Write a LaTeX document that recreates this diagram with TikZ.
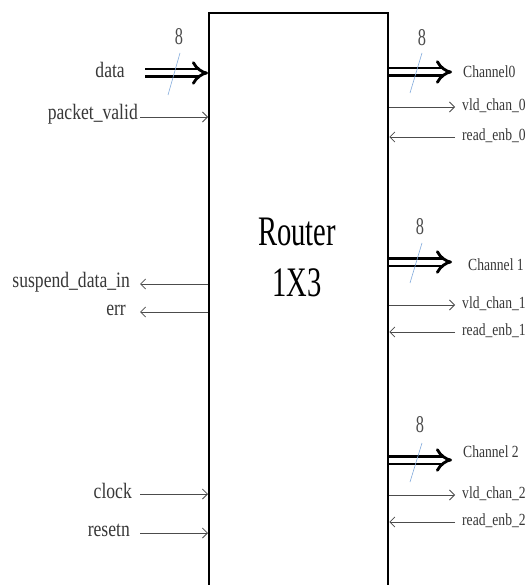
\documentclass[tikz,border=0pt]{standalone}
\usepackage{fontspec}
\setmainfont{Liberation Serif}
\newfontfamily\condA[FakeStretch=0.8]{Liberation Serif}
\newfontfamily\condB[FakeStretch=0.68]{Liberation Serif}
\usetikzlibrary{arrows.meta}
\definecolor{slashblue}{RGB}{130,170,220}
\begin{document}
\begin{tikzpicture}[x=1pt,y=-1pt,
  lbl/.style={font=\condA\fontsize{22}{24}\selectfont, text=black!78, inner sep=0pt, anchor=east},
  rlbl/.style={font=\condA\fontsize{17}{20}\selectfont, text=black!78, inner sep=0pt, anchor=west},
  wid/.style={font=\condB\fontsize{24}{26}\selectfont, text=black!70, inner sep=0pt},
  ttl/.style={font=\condB\fontsize{42}{46}\selectfont, text=black, inner sep=0pt},
  sig/.style={draw=black!70, line width=0.8pt, -{Straight Barb[length=5pt,width=10pt]}},
  bus/.style={draw=black, line width=2.8pt, double=white, double distance=5pt, -{Implies[scale=1.2]}},
  slashline/.style={draw=slashblue, line width=0.6pt}]
\useasboundingbox (0,0) rectangle (529,585);
\clip (0,0) rectangle (529,585);
\fill[white] (0,0) rectangle (529,585);
% main block
\node[draw, line width=2.3pt, minimum width=179pt, minimum height=620pt, anchor=north west, inner sep=0pt] (router) at (208,12) {};
\node[ttl] (t1) at (297,232) {Router};
\node[ttl] (t2) at (297,283) {1X3};
% left inputs
\node[lbl] (data) at (125,70) {data};
\coordinate (data-s) at (145,73);
\draw[bus] (data-s) -- (data-s -| router.west);
\node[wid] (w0) at (179,37) {8};
\coordinate (s0a) at (168,95); \coordinate (s0b) at (180,53);
\draw[slashline] (s0a) -- (s0b);
\node[lbl] (pv) at (138,114) {packet\_valid};
\coordinate (pv-s) at (140,117);
\draw[sig] (pv-s) -- (pv-s -| router.west);
\node[lbl] (sus) at (130,282) {suspend\_data\_in};
\coordinate (sus-e) at (140,284);
\draw[sig] (sus-e -| router.west) -- (sus-e);
\node[lbl] (err) at (126,310) {err};
\coordinate (err-e) at (140,312);
\draw[sig] (err-e -| router.west) -- (err-e);
\node[lbl] (clk) at (132,491) {clock};
\coordinate (clk-s) at (140,494);
\draw[sig] (clk-s) -- (clk-s -| router.west);
\node[lbl] (rst) at (130,530) {resetn};
\coordinate (rst-s) at (140,533);
\draw[sig] (rst-s) -- (rst-s -| router.west);
% right outputs: channel 0
\coordinate (c0-e) at (452,72);
\draw[bus] (c0-e -| router.east) -- (c0-e);
\node[wid] (w1) at (422,38) {8};
\coordinate (s1a) at (410,93); \coordinate (s1b) at (422,53);
\draw[slashline] (s1a) -- (s1b);
\node[rlbl] (ch0) at (463,72) {Channel0};
\coordinate (v0-e) at (455,107);
\draw[sig] (v0-e -| router.east) -- (v0-e);
\node[rlbl] (v0) at (462,106) {vld\_chan\_0};
\coordinate (r0-s) at (455,137);
\draw[sig] (r0-s) -- (r0-s -| router.east);
\node[rlbl] (r0) at (462,136) {read\_enb\_0};
% channel 1
\coordinate (c1-e) at (452,262);
\draw[bus] (c1-e -| router.east) -- (c1-e);
\node[wid] (w2) at (420,227) {8};
\coordinate (s2a) at (410,283); \coordinate (s2b) at (422,243);
\draw[slashline] (s2a) -- (s2b);
\node[rlbl] (ch1) at (468,265) {Channel 1};
\coordinate (v1-e) at (455,305);
\draw[sig] (v1-e -| router.east) -- (v1-e);
\node[rlbl] (v1) at (462,304) {vld\_chan\_1};
\coordinate (r1-s) at (455,332);
\draw[sig] (r1-s) -- (r1-s -| router.east);
\node[rlbl] (r1) at (462,331) {read\_enb\_1};
% channel 2
\coordinate (c2-e) at (452,460);
\draw[bus] (c2-e -| router.east) -- (c2-e);
\node[wid] (w3) at (420,425) {8};
\coordinate (s3a) at (410,482); \coordinate (s3b) at (422,443);
\draw[slashline] (s3a) -- (s3b);
\node[rlbl] (ch2) at (463,452) {Channel 2};
\coordinate (v2-e) at (455,495);
\draw[sig] (v2-e -| router.east) -- (v2-e);
\node[rlbl] (v2) at (462,494) {vld\_chan\_2};
\coordinate (r2-s) at (455,522);
\draw[sig] (r2-s) -- (r2-s -| router.east);
\node[rlbl] (r2) at (462,521) {read\_enb\_2};
\end{tikzpicture}
\end{document}
